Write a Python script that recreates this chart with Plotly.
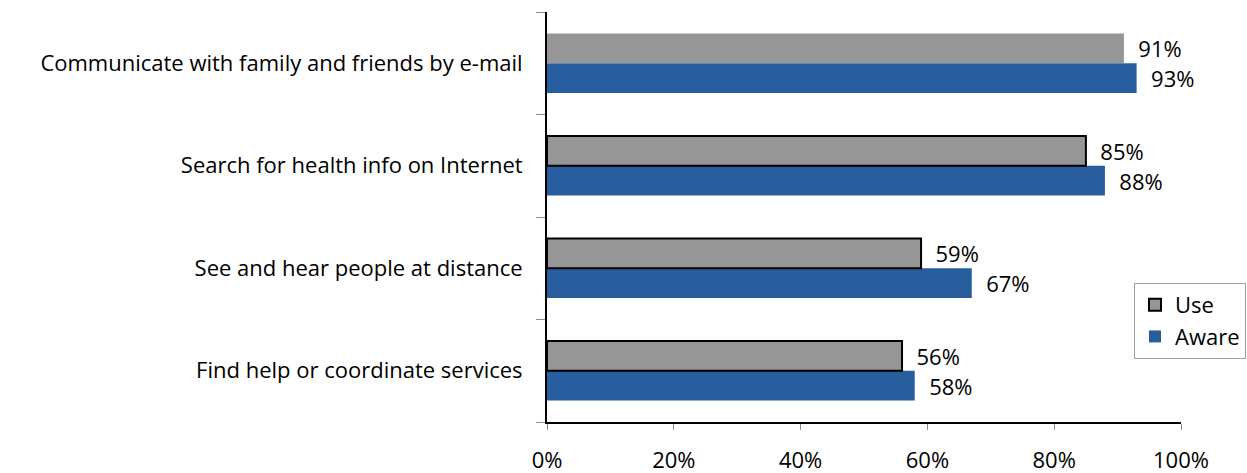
import plotly.graph_objects as go

# Categories listed bottom to top as they appear on the chart
categories = [
    "Find help or coordinate services",
    "See and hear people at distance",
    "Search for health info on Internet",
    "Communicate with family and friends by e-mail",
]
use_pct = [56, 59, 85, 91]
aware_pct = [58, 67, 88, 93]
x_ticks = [0, 20, 40, 60, 80, 100]
x_tick_labels = ["0%", "20%", "40%", "60%", "80%", "100%"]

FONT = "'Open Sans', sans-serif"
FSIZE = 22
GRAY = "#969696"
BLUE = "#285E9E"

fig = go.Figure()

fig.add_trace(go.Bar(
    name="Aware",
    y=categories,
    x=aware_pct,
    orientation="h",
    marker=dict(color=BLUE, line=dict(width=0)),
    text=[f"{v}%" for v in aware_pct],
    texttemplate="  %{text}",
    textposition="outside",
    constraintext="none",
    textfont=dict(size=FSIZE, color="#000000", family=FONT),
    cliponaxis=False,
))

fig.add_trace(go.Bar(
    name="Use",
    y=categories,
    x=use_pct,
    orientation="h",
    marker=dict(color=GRAY, line=dict(color="#000000", width=[2, 2, 2, 0])),
    text=[f"{v}%" for v in use_pct],
    texttemplate="  %{text}",
    textposition="outside",
    constraintext="none",
    textfont=dict(size=FSIZE, color="#000000", family=FONT),
    cliponaxis=False,
))

fig.update_layout(
    width=1247,
    height=473,
    margin=dict(l=547, r=66, t=12, b=51, autoexpand=False),
    paper_bgcolor="white",
    plot_bgcolor="white",
    barmode="group",
    bargap=0.42,
    bargroupgap=0,
    font=dict(family=FONT, size=FSIZE, color="#000000"),
    showlegend=True,
    legend=dict(
        x=1.1025, y=0.339, xanchor="right", yanchor="top",
        traceorder="reversed",
        bordercolor="#A0A0A0", borderwidth=1,
        font=dict(size=FSIZE, family=FONT),
        itemwidth=30,
        tracegroupgap=0,
    ),
)

fig.update_xaxes(
    range=[0, 100],
    tickvals=x_ticks,
    ticktext=x_tick_labels,
    showgrid=False,
    zeroline=False,
    showline=True,
    linecolor="#000000",
    linewidth=1.5,
    ticks="outside",
    ticklen=6,
    tickcolor="#8C8C8C",
    tickfont=dict(size=FSIZE, family=FONT),
    ticklabelstandoff=12,
    automargin=False,
    fixedrange=True,
)

fig.update_yaxes(
    showgrid=False,
    showline=True,
    linecolor="#000000",
    linewidth=2,
    ticks="outside",
    tickson="boundaries",
    ticklen=9,
    tickcolor="#8C8C8C",
    tickfont=dict(size=FSIZE, family=FONT),
    ticklabelstandoff=18,
    automargin=False,
    fixedrange=True,
)

fig.write_html("out.html")
